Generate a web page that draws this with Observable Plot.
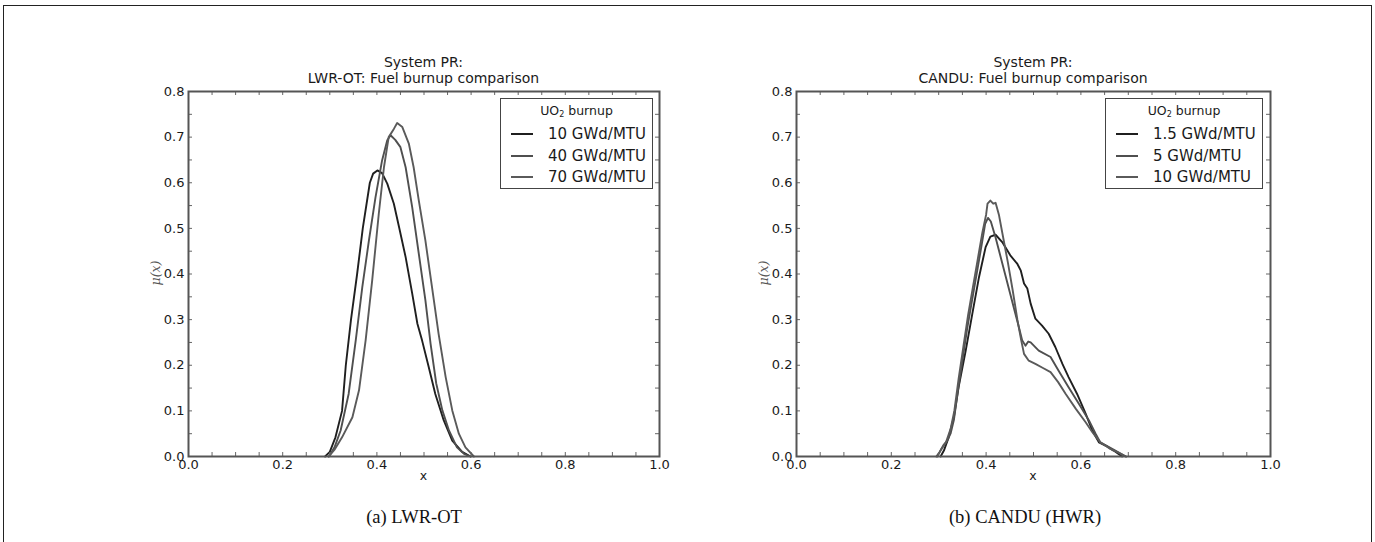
<!DOCTYPE html>
<html>
<head>
<meta charset="utf-8">
<script src="https://cdn.jsdelivr.net/npm/d3@7"></script>
<script src="https://cdn.jsdelivr.net/npm/@observablehq/plot@0.6"></script>
<style>
  html, body { margin: 0; padding: 0; background: #fff; }
  body { width: 1375px; height: 542px; overflow: hidden; position: relative; font-family: "DejaVu Sans", sans-serif; color: #222; }
  .abs { position: absolute; }
  #border { left: 3px; top: 5px; width: 1369px; height: 620px; border: 1.5px solid #222; box-sizing: border-box; }
  .title { font-size: 14px; text-align: center; line-height: 16px; width: 400px; white-space: nowrap; color: #1a1a1a; }
  .xlab { font-size: 12.5px; width: 40px; text-align: center; color: #1a1a1a; }
  .ylab { font-size: 12.5px; font-style: italic; color: #555; font-family: "DejaVu Serif", serif; transform: rotate(-90deg); transform-origin: center center; width: 40px; text-align: center; line-height: 14px; }
  .caption { font-family: "Liberation Serif", "DejaVu Serif", serif; font-size: 18.5px; width: 300px; text-align: center; line-height: 20px; color: #111; }
  .legend { border: 1.5px solid #444; box-sizing: border-box; background: #fff; }
  .legtitle { position: absolute; left: 0; right: 0; top: 4px; text-align: center; font-size: 12.5px; line-height: 15px; color: #1a1a1a; }
  .legtitle sub { font-size: 8px; vertical-align: -2px; }
  .legrow { position: absolute; left: 0; right: 0; height: 18px; font-size: 15px; line-height: 18px; color: #1a1a1a; }
  .legrow svg { position: absolute; top: 0; }
  .legrow span { position: absolute; white-space: nowrap; }
</style>
</head>
<body>
<div id="border" class="abs"></div>
<div id="root"></div>
<script>
// ---------- Data ----------
const xTickValues = [0.0, 0.2, 0.4, 0.6, 0.8, 1.0];
const yTickValues = [0.0, 0.1, 0.2, 0.3, 0.4, 0.5, 0.6, 0.7, 0.8];
const xTickMarks = [0, 0.05, 0.1, 0.15, 0.2, 0.25, 0.3, 0.35, 0.4, 0.45, 0.5, 0.55, 0.6, 0.65, 0.7, 0.75, 0.8, 0.85, 0.9, 0.95, 1.0];
const yTickMarks = [0, 0.05, 0.1, 0.15, 0.2, 0.25, 0.3, 0.35, 0.4, 0.45, 0.5, 0.55, 0.6, 0.65, 0.7, 0.75, 0.8];

const lwrNames = ["10 GWd/MTU", "40 GWd/MTU", "70 GWd/MTU"];
const candNames = ["1.5 GWd/MTU", "5 GWd/MTU", "10 GWd/MTU"];
const seriesColors = ["#1f1f1f", "#4f4f4f", "#5a5a5a"];

// LWR-OT
const lwr10X = [0.29, 0.30, 0.312, 0.326, 0.334, 0.345, 0.358, 0.370, 0.385, 0.392, 0.401, 0.411, 0.422, 0.436, 0.447, 0.461, 0.475, 0.486, 0.496, 0.510, 0.524, 0.542, 0.560, 0.581, 0.599];
const lwr10Y = [0, 0.01, 0.042, 0.100, 0.200, 0.300, 0.400, 0.500, 0.600, 0.620, 0.627, 0.621, 0.598, 0.554, 0.503, 0.437, 0.357, 0.291, 0.254, 0.196, 0.137, 0.079, 0.035, 0.010, 0];
const lwr40X = [0.298, 0.31, 0.323, 0.340, 0.355, 0.369, 0.383, 0.397, 0.411, 0.422, 0.429, 0.439, 0.450, 0.461, 0.475, 0.489, 0.503, 0.514, 0.526, 0.539, 0.553, 0.570, 0.585, 0.598];
const lwr40Y = [0, 0.02, 0.057, 0.137, 0.254, 0.371, 0.473, 0.568, 0.649, 0.693, 0.704, 0.694, 0.678, 0.634, 0.546, 0.444, 0.342, 0.247, 0.160, 0.101, 0.057, 0.020, 0.006, 0];
const lwr70X = [0.298, 0.31, 0.326, 0.348, 0.362, 0.376, 0.390, 0.404, 0.415, 0.425, 0.436, 0.443, 0.454, 0.468, 0.478, 0.489, 0.503, 0.517, 0.531, 0.546, 0.560, 0.574, 0.588, 0.606];
const lwr70Y = [0, 0.015, 0.042, 0.086, 0.145, 0.254, 0.386, 0.532, 0.634, 0.700, 0.718, 0.731, 0.722, 0.685, 0.634, 0.561, 0.473, 0.371, 0.269, 0.174, 0.101, 0.050, 0.020, 0];

// CANDU
const cand15X = [0.304, 0.311, 0.321, 0.332, 0.342, 0.357, 0.371, 0.385, 0.399, 0.409, 0.420, 0.434, 0.451, 0.466, 0.473, 0.480, 0.487, 0.494, 0.504, 0.518, 0.532, 0.546, 0.561, 0.574, 0.592, 0.610, 0.624, 0.638, 0.652, 0.669, 0.687];
const cand15Y = [0, 0.013, 0.042, 0.086, 0.152, 0.232, 0.313, 0.393, 0.459, 0.482, 0.486, 0.470, 0.441, 0.422, 0.408, 0.379, 0.368, 0.335, 0.302, 0.287, 0.269, 0.240, 0.203, 0.174, 0.137, 0.094, 0.057, 0.031, 0.024, 0.013, 0];
const cand5X = [0.295, 0.302, 0.31, 0.318, 0.325, 0.332, 0.34, 0.35, 0.36, 0.37, 0.38, 0.39, 0.398, 0.404, 0.41, 0.42, 0.43, 0.44, 0.45, 0.46, 0.47, 0.476, 0.483, 0.489, 0.494, 0.511, 0.536, 0.553, 0.574, 0.596, 0.617, 0.631, 0.641, 0.666, 0.695];
const cand5Y = [0, 0.01, 0.025, 0.035, 0.05, 0.08, 0.14, 0.21, 0.28, 0.34, 0.40, 0.46, 0.51, 0.523, 0.515, 0.48, 0.44, 0.40, 0.36, 0.32, 0.28, 0.255, 0.243, 0.252, 0.25, 0.232, 0.218, 0.188, 0.152, 0.115, 0.079, 0.050, 0.031, 0.017, 0];
const cand10X = [0.297, 0.305, 0.315, 0.325, 0.333, 0.342, 0.352, 0.362, 0.372, 0.382, 0.392, 0.400, 0.403, 0.409, 0.415, 0.420, 0.427, 0.436, 0.446, 0.456, 0.466, 0.474, 0.480, 0.490, 0.504, 0.520, 0.536, 0.552, 0.568, 0.589, 0.610, 0.625, 0.641, 0.66, 0.68, 0.695];
const cand10Y = [0, 0.015, 0.03, 0.06, 0.10, 0.17, 0.24, 0.31, 0.37, 0.43, 0.49, 0.53, 0.554, 0.561, 0.554, 0.556, 0.530, 0.480, 0.425, 0.365, 0.300, 0.255, 0.225, 0.210, 0.203, 0.194, 0.185, 0.163, 0.137, 0.105, 0.075, 0.052, 0.031, 0.018, 0.008, 0];

const panels = [
  { left: 130, top: 50, frameW: 471, names: lwrNames, xs: [lwr10X, lwr40X, lwr70X], ys: [lwr10Y, lwr40Y, lwr70Y],
    title: ["System PR:", "LWR-OT: Fuel burnup comparison"], caption: "(a) LWR-OT", captionX: 414,
    legend: { left: 500, width: 153 }, ylabX: 156 },
  { left: 738, top: 50, frameW: 474, names: candNames, xs: [cand15X, cand5X, cand10X], ys: [cand15Y, cand5Y, cand10Y],
    title: ["System PR:", "CANDU: Fuel burnup comparison"], caption: "(b) CANDU (HWR)", captionX: 1025,
    legend: { left: 1105, width: 158 }, ylabX: 764 }
];

const W = 560, H = 440, ML = 58, MT = 41, MB = 34;
const frameH = H - MT - MB;
const fmt = d3.format(".1f");
const root = document.getElementById("root");

function el(tag, cls, css, html) {
  const e = document.createElement(tag);
  if (cls) e.className = cls;
  Object.assign(e.style, css || {});
  if (html != null) e.innerHTML = html;
  root.appendChild(e);
  return e;
}

for (const p of panels) {
  const data = [];
  p.names.forEach((name, k) => p.xs[k].forEach((x, i) => data.push({ x, y: p.ys[k][i], name })));
  const MR = W - ML - p.frameW;
  const chart = Plot.plot({
    width: W, height: H, marginLeft: ML, marginRight: MR, marginTop: MT, marginBottom: MB,
    x: { domain: [0, 1] },
    y: { domain: [0, 0.8] },
    color: { domain: p.names, range: seriesColors },
    style: { fontFamily: "DejaVu Sans", fontSize: "13px", color: "#1a1a1a", background: "transparent", overflow: "visible" },
    marks: [
      Plot.line(data, { x: "x", y: "y", z: "name", stroke: "name", strokeWidth: 1.9, curve: "linear" }),
      Plot.ruleX(xTickMarks, { x: d => d, insetTop: frameH - 4, stroke: "#666" }),
      Plot.ruleX(xTickMarks, { x: d => d, insetBottom: frameH - 4, stroke: "#666" }),
      Plot.ruleY(yTickMarks, { y: d => d, insetRight: p.frameW - 4, stroke: "#666" }),
      Plot.ruleY(yTickMarks, { y: d => d, insetLeft: p.frameW - 4, stroke: "#666" }),
      Plot.frame({ stroke: "#555", strokeWidth: 2 }),
      Plot.axisX(xTickValues, { tickSize: 0, tickPadding: 3, tickFormat: fmt, label: null, fill: "#1a1a1a", fontSize: 13 }),
      Plot.axisY(yTickValues, { tickSize: 0, tickPadding: 4, tickFormat: fmt, label: null, fill: "#1a1a1a", fontSize: 13 })
    ]
  });
  chart.style.position = "absolute";
  chart.style.left = p.left + "px";
  chart.style.top = p.top + "px";
  root.appendChild(chart);

  const cx = p.left + ML + p.frameW / 2;
  el("div", "abs title", { left: (cx - 200) + "px", top: "54px" }, p.title[0] + "<br>" + p.title[1]);
  el("div", "abs xlab", { left: (cx - 20) + "px", top: "468px" }, "x");
  el("div", "abs ylab", { left: (p.ylabX - 20) + "px", top: "266px" }, "\u03bc(x)");
  el("div", "abs caption", { left: (p.captionX - 150) + "px", top: "507px" }, p.caption);

  const lg = el("div", "abs legend", { left: p.legend.left + "px", top: "98px", width: p.legend.width + "px", height: "91px" });
  const t = document.createElement("div");
  t.className = "legtitle";
  t.innerHTML = "UO<sub>2</sub> burnup";
  lg.appendChild(t);
  p.names.forEach((name, k) => {
    const row = document.createElement("div");
    row.className = "legrow";
    row.style.top = (26 + k * 21.5) + "px";
    row.innerHTML = `<svg width="40" height="18" style="left:9px"><line x1="1" x2="23" y1="9" y2="9" stroke="${seriesColors[k]}" stroke-width="2"/></svg><span style="left:47px">${name}</span>`;
    lg.appendChild(row);
  });
}
</script>
</body>
</html>
